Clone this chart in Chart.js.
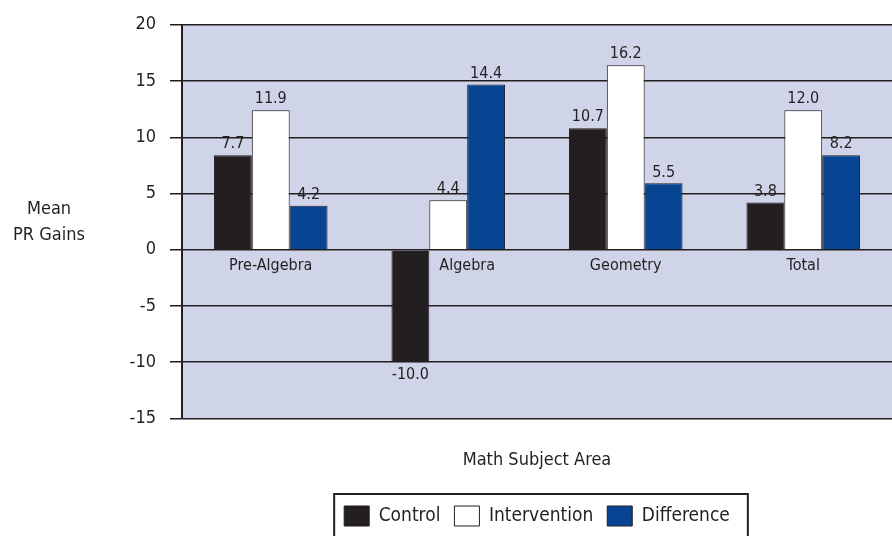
<!DOCTYPE html>
<html>
<head>
<meta charset="utf-8">
<script src="https://cdn.jsdelivr.net/npm/chart.js@4"></script>
<style>
  html, body { margin: 0; padding: 0; background: #fff; }
  #wrap { width: 892px; height: 536px; }
</style>
</head>
<body>
<div id="wrap"><canvas id="gains-chart"></canvas></div>
<script>
// Categorias y valores
var subjects = ['Pre-Algebra', 'Algebra', 'Geometry', 'Total'];
var control = [8.4, -10.0, 10.8, 4.2];
var intervention = [12.4, 4.4, 16.4, 12.4];
var difference = [3.9, 14.7, 5.9, 8.4];
// Etiquetas impresas encima de las barras
var controlLabels = ['7.7', '-10.0', '10.7', '3.8'];
var interventionLabels = ['11.9', '4.4', '16.2', '12.0'];
var differenceLabels = ['4.2', '14.4', '5.5', '8.2'];
var yTicks = [-15, -10, -5, 0, 5, 10, 15, 20];

var dark = '#231f20';
var fontFamily = "'Liberation Sans Narrow', 'DejaVu Sans Condensed', 'Roboto', sans-serif";

// Fondo lila del area de trazado
var plotBackground = {
    id: 'plotBackground',
    beforeDraw: function(chart) {
        var a = chart.chartArea, ctx = chart.ctx;
        ctx.save();
        ctx.fillStyle = '#d0d4e9';
        ctx.fillRect(a.left, a.top, a.right - a.left, a.bottom - a.top);
        ctx.restore();
    }
};

// Valores encima de las barras, nombres de categoria y titulo del eje Y
var extraText = {
    id: 'extraText',
    afterDatasetsDraw: function(chart) {
        var ctx = chart.ctx, a = chart.chartArea;
        var labelSets = [controlLabels, interventionLabels, differenceLabels];
        ctx.save();
        ctx.fillStyle = dark;
        ctx.textAlign = 'center';
        ctx.font = '16px ' + fontFamily;
        chart.data.datasets.forEach(function(ds, i) {
            chart.getDatasetMeta(i).data.forEach(function(bar, j) {
                if (ds.data[j] >= 0) {
                    ctx.textBaseline = 'bottom';
                    ctx.fillText(labelSets[i][j], bar.x, bar.y - 3);
                } else {
                    ctx.textBaseline = 'top';
                    ctx.fillText(labelSets[i][j], bar.x, bar.y + 5);
                }
            });
        });

        // nombre de categoria bajo la linea cero, centrado sobre las barras positivas
        var zeroY = chart.scales.y.getPixelForValue(0);
        ctx.font = '16px ' + fontFamily;
        ctx.textBaseline = 'top';
        subjects.forEach(function(name, j) {
            var lo = Infinity, hi = -Infinity;
            chart.data.datasets.forEach(function(ds, i) {
                if (ds.data[j] >= 0) {
                    var bar = chart.getDatasetMeta(i).data[j];
                    lo = Math.min(lo, bar.x - bar.width / 2);
                    hi = Math.max(hi, bar.x + bar.width / 2);
                }
            });
            ctx.fillText(name, (lo + hi) / 2, zeroY + 8);
        });

        // titulo del eje Y en horizontal
        var midY = (a.top + a.bottom) / 2;
        ctx.font = '18px ' + fontFamily;
        ctx.textBaseline = 'middle';
        ctx.fillText('Mean', 49, midY - 12);
        ctx.fillText('PR Gains', 49, midY + 14);
        ctx.restore();
    },
    afterDraw: function(chart) {
        // marco de la leyenda
        var boxes = chart.legend.legendHitBoxes;
        if (!boxes || !boxes.length) return;
        var left = Infinity, right = -Infinity, top = Infinity;
        boxes.forEach(function(b) {
            left = Math.min(left, b.left);
            right = Math.max(right, b.left + b.width);
            top = Math.min(top, b.top);
        });
        var ctx = chart.ctx;
        ctx.save();
        ctx.strokeStyle = dark;
        ctx.lineWidth = 2;
        ctx.strokeRect(left - 10, top - 12, right - left + 28, 80);
        ctx.restore();
    }
};

var ctx = document.getElementById('gains-chart').getContext('2d');
var gainsChart = new Chart(ctx, {
    type: 'bar',
    data: {
        labels: subjects,
        datasets: [
            {
                label: 'Control',
                data: control,
                backgroundColor: dark,
                borderColor: dark,
                borderWidth: 1
            },
            {
                label: 'Intervention',
                data: intervention,
                backgroundColor: '#ffffff',
                borderColor: dark,
                borderWidth: 1
            },
            {
                label: 'Difference',
                data: difference,
                backgroundColor: '#074592',
                borderColor: dark,
                borderWidth: 1
            }
        ]
    },
    options: {
        responsive: true,
        maintainAspectRatio: false,
        animation: false,
        layout: { padding: { top: 9, right: 0, bottom: 0, left: 0 } },
        datasets: {
            bar: { categoryPercentage: 0.64, barPercentage: 1.0 }
        },
        plugins: {
            tooltip: { enabled: false },
            legend: {
                position: 'bottom',
                fullSize: false,
                labels: {
                    color: dark,
                    font: { family: fontFamily, size: 19 },
                    boxWidth: 25,
                    boxHeight: 20,
                    padding: 14
                }
            }
        },
        scales: {
            x: {
                grid: { display: false },
                border: { display: false },
                ticks: { display: false },
                title: {
                    display: true,
                    text: 'Math Subject Area',
                    color: dark,
                    font: { family: fontFamily, size: 18 },
                    padding: { top: 23, bottom: 21 }
                }
            },
            y: {
                min: -15,
                max: 20,
                afterBuildTicks: function(scale) {
                    scale.ticks = yTicks.map(function(v) { return { value: v }; });
                },
                afterFit: function(scale) { scale.width = 182; },
                grid: {
                    color: dark,
                    lineWidth: 1.5,
                    tickLength: 12,
                    drawTicks: true
                },
                border: { display: true, color: dark, width: 2 },
                ticks: {
                    color: dark,
                    padding: 14,
                    font: { family: fontFamily, size: 18 }
                }
            }
        }
    },
    plugins: [plotBackground, extraText]
});
</script>
</body>
</html>
